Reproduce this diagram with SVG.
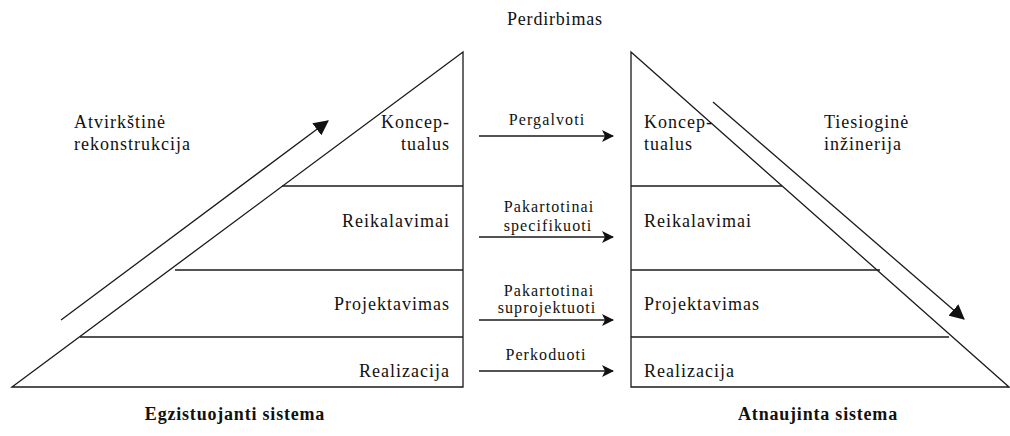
<svg xmlns="http://www.w3.org/2000/svg" width="1010" height="436" viewBox="0 0 1010 436">
  <style>
    .ln { stroke: #1a1a1a; stroke-width: 1.3; fill: none; }
    .lbl { font-family: "Liberation Serif", "Times New Roman", serif; font-size: 18px; letter-spacing: 1px; fill: #111; }
    .mid { font-family: "Liberation Serif", "Times New Roman", serif; font-size: 16px; letter-spacing: 1.1px; fill: #111; text-anchor: middle; }
    .ttl { font-family: "Liberation Serif", "Times New Roman", serif; font-size: 18px; font-weight: bold; letter-spacing: 0.8px; fill: #111; text-anchor: middle; }
    .end { text-anchor: end; }
  </style>
  <defs>
    <marker id="head" viewBox="0 0 12 12" refX="11" refY="6" markerWidth="12" markerHeight="12" markerUnits="userSpaceOnUse" orient="auto">
      <path d="M0,0 L12,6 L0,12 L3,6 Z" fill="#111"/>
    </marker>
    <marker id="tri" viewBox="0 0 14 14" refX="13" refY="7" markerWidth="15" markerHeight="15" markerUnits="userSpaceOnUse" orient="auto">
      <path d="M0,0 L14,7 L0,14 Z" fill="#111"/>
    </marker>
  </defs>

  <!-- heading -->
  <text class="lbl" x="507" y="25" style="letter-spacing:0.8px">Perdirbimas</text>

  <!-- existing system pyramid -->
  <g id="existing-system">
    <path class="ln" d="M12,387 L463,52 L463,387 Z"/>
    <line class="ln" x1="282" y1="186" x2="463" y2="186"/>
    <line class="ln" x1="175" y1="270" x2="463" y2="270"/>
    <line class="ln" x1="80" y1="337" x2="463" y2="337"/>
    <text class="lbl end" x="450" y="128">Koncep-</text>
    <text class="lbl end" x="450" y="150">tualus</text>
    <text class="lbl end" x="450" y="227">Reikalavimai</text>
    <text class="lbl end" x="450" y="310">Projektavimas</text>
    <text class="lbl end" x="450" y="377">Realizacija</text>
    <text class="ttl" x="235" y="420">Egzistuojanti sistema</text>
  </g>

  <!-- renewed system pyramid -->
  <g id="renewed-system">
    <path class="ln" d="M631,52 L1009,387 L631,387 Z"/>
    <line class="ln" x1="631" y1="186" x2="782" y2="186"/>
    <line class="ln" x1="631" y1="270" x2="880" y2="270"/>
    <line class="ln" x1="631" y1="337" x2="949" y2="337"/>
    <text class="lbl" x="644" y="128">Koncep-</text>
    <text class="lbl" x="644" y="150">tualus</text>
    <text class="lbl" x="644" y="227">Reikalavimai</text>
    <text class="lbl" x="644" y="310">Projektavimas</text>
    <text class="lbl" x="644" y="377">Realizacija</text>
    <text class="ttl" x="818" y="420">Atnaujinta sistema</text>
  </g>

  <!-- side annotations -->
  <g id="reverse-engineering">
    <text class="lbl" x="74" y="128">Atvirkštinė</text>
    <text class="lbl" x="74" y="150">rekonstrukcija</text>
  </g>
  <g id="forward-engineering">
    <text class="lbl" x="824" y="128">Tiesioginė</text>
    <text class="lbl" x="824" y="150">inžinerija</text>
  </g>

  <!-- transformation labels -->
  <g id="transform-labels">
    <text class="mid" x="547" y="125">Pergalvoti</text>
    <text class="mid" x="549" y="212">Pakartotinai</text>
    <text class="mid" x="548" y="231">specifikuoti</text>
    <text class="mid" x="549" y="296">Pakartotinai</text>
    <text class="mid" x="547" y="313">suprojektuoti</text>
    <text class="mid" x="546" y="360">Perkoduoti</text>
  </g>

  <!-- connectors -->
  <g id="connectors">
    <line class="ln" x1="61" y1="320" x2="328" y2="121" marker-end="url(#tri)"/>
    <line class="ln" x1="713" y1="102" x2="964" y2="319" marker-end="url(#tri)"/>
    <line class="ln" x1="479" y1="136" x2="613" y2="136" marker-end="url(#head)"/>
    <line class="ln" x1="479" y1="237" x2="613" y2="237" marker-end="url(#head)"/>
    <line class="ln" x1="479" y1="320" x2="613" y2="320" marker-end="url(#head)"/>
    <line class="ln" x1="479" y1="371" x2="613" y2="371" marker-end="url(#head)"/>
  </g>
</svg>
